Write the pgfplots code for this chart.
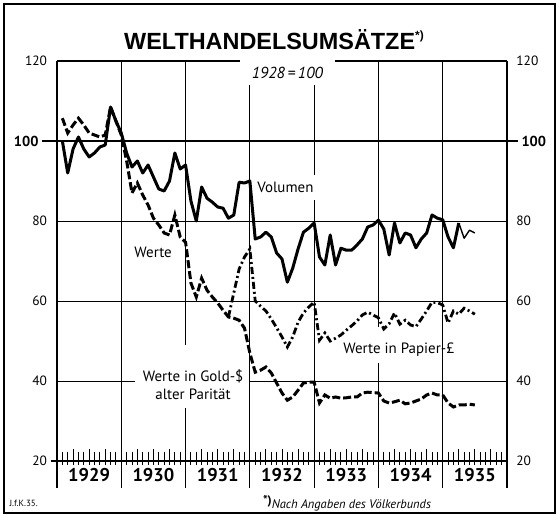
\documentclass[border=0pt]{standalone}
\usepackage{pgfplots}
\pgfplotsset{compat=1.18}
\usepackage{fontspec}
\setmainfont{PT Sans}
\newfontfamily\titlefont{Liberation Sans}
\begin{document}
\begin{tikzpicture}
\path (0bp,0bp) rectangle (559bp,517bp);
\draw[line width=1.4bp] (4bp,4bp) rectangle (555bp,513bp);
\node[font=\titlefont\bfseries\fontsize{23.5}{25}\selectfont] at (274bp,477bp) {WELTHANDELSUMSÄTZE\raisebox{0.45em}{\fontsize{12}{12}\selectfont *)}};
\node[anchor=west,font=\fontsize{9}{10}\selectfont] at (6bp,14bp) {J.f.K.35.};
\node[font=\itshape\fontsize{12.5}{13}\selectfont] at (347bp,14bp) {\raisebox{0.3em}{\upshape\bfseries *)}Nach Angaben des Völkerbunds};
% month ticks on the 20 line (the 20 line is at y=56bp; month k at x=57+5.3571k bp)
\foreach \k in {1,2,4,5,7,8,10,11,13,14,16,17,19,20,22,23,25,26,28,29,31,32,34,35,37,38,40,41,43,44,46,47,49,50,52,53,55,56,58,59,61,62,64,65,67,68,70,71,73,74,76,77,79,80,82,83}{
  \pgfmathsetmacro{\xx}{57+5.3571*\k}
  \draw[line width=1bp] (\xx bp,52bp) -- (\xx bp,65bp);
}
\foreach \k in {3,6,9,15,18,21,27,30,33,39,42,45,51,54,57,63,66,69,75,78,81}{
  \pgfmathsetmacro{\xx}{57+5.3571*\k}
  \draw[line width=1bp] (\xx bp,52bp) -- (\xx bp,68bp);
}
\begin{axis}[at={(57bp,29bp)}, anchor=south west, scale only axis,
  width=450bp, height=427bp, xmin=0, xmax=84, ymin=13.25, ymax=120,
  hide axis, clip=false]
% frame and grid
\draw[line width=1.1bp] (axis cs:0,13.25) -- (axis cs:0,120);
\draw[line width=1.1bp] (axis cs:84,13.25) -- (axis cs:84,120);
\draw[line width=1.1bp] (axis cs:0,120) -- (axis cs:34.2,120);
\draw[line width=1.1bp] (axis cs:51.9,120) -- (axis cs:84,120);
\draw[line width=0.9bp] (axis cs:12,13.25) -- (axis cs:12,120);
\draw[line width=0.9bp] (axis cs:24,13.25) -- (axis cs:24,33.3);
\draw[line width=0.9bp] (axis cs:24,49) -- (axis cs:24,120);
\draw[line width=0.9bp] (axis cs:36,13.25) -- (axis cs:36,114);
\draw[line width=0.9bp] (axis cs:48,13.25) -- (axis cs:48,85.3);
\draw[line width=0.9bp] (axis cs:48,91.5) -- (axis cs:48,114);
\draw[line width=0.9bp] (axis cs:60,13.25) -- (axis cs:60,44.5);
\draw[line width=0.9bp] (axis cs:60,53.5) -- (axis cs:60,120);
\draw[line width=0.9bp] (axis cs:72,13.25) -- (axis cs:72,120);
\draw[line width=2bp] (axis cs:-2.8,100) -- (axis cs:86.05,100);
\draw[line width=0.8bp] (axis cs:0,80) -- (axis cs:84,80);
\draw[line width=0.8bp] (axis cs:0,60) -- (axis cs:84,60);
\draw[line width=0.8bp] (axis cs:0,40) -- (axis cs:14.6,40);
\draw[line width=0.8bp] (axis cs:36,40) -- (axis cs:84,40);
\draw[line width=1.2bp] (axis cs:-1.2,20) -- (axis cs:84,20);
% tick labels
\pgfplotsinvokeforeach{120,80,60,40,20}{
  \node[anchor=east,font=\fontsize{13.5}{13.5}\selectfont] at (axis cs:-1.2,#1) {#1};
  \node[anchor=west,font=\fontsize{13.5}{13.5}\selectfont] at (axis cs:85.1,#1) {#1};
}
\node[anchor=east,font=\bfseries\fontsize{14.5}{14.5}\selectfont] at (axis cs:-2.8,100) {100};
\node[anchor=west,font=\bfseries\fontsize{14.5}{14.5}\selectfont] at (axis cs:86.05,100) {100};
% year labels
\node[font=\bfseries\fontsize{18.5}{18.5}\selectfont] at (axis cs:6,16.4) {1929};
\node[font=\bfseries\fontsize{18.5}{18.5}\selectfont] at (axis cs:18,16.4) {1930};
\node[font=\bfseries\fontsize{18.5}{18.5}\selectfont] at (axis cs:30,16.4) {1931};
\node[font=\bfseries\fontsize{18.5}{18.5}\selectfont] at (axis cs:42,16.4) {1932};
\node[font=\bfseries\fontsize{18.5}{18.5}\selectfont] at (axis cs:54,16.4) {1933};
\node[font=\bfseries\fontsize{18.5}{18.5}\selectfont] at (axis cs:66,16.4) {1934};
\node[font=\bfseries\fontsize{18.5}{18.5}\selectfont] at (axis cs:78,16.4) {1935};
\node[font=\itshape\fontsize{16}{16}\selectfont] at (axis cs:43,117) {1928\,=\,100};
% series labels
\node[anchor=west,fill=white,inner sep=1bp,font=\fontsize{15}{15}\selectfont] at (axis cs:37.2,88.5) {Volumen};
\node[anchor=west,font=\fontsize{15}{15}\selectfont] at (axis cs:13.8,72.2) {Werte};
\node[anchor=west,font=\fontsize{15}{15}\selectfont] at (axis cs:52.8,47.8) {Werte in Papier-£};
\node[align=center,font=\fontsize{15}{18}\selectfont] at (axis cs:25.4,39) {Werte in Gold-\$\\alter Parität};
% Volumen
\addplot[black, line width=3bp, line join=round] coordinates {
(1,100) (2,92) (3,98) (4,101) (5,98) (6,96) (7,97) (8,98.5) (9,99) (10,108.5) (11,105) (12,102)
(13,97) (14,93.5) (15,95) (16,92) (17,94) (18,91) (19,88) (20,87.5) (21,90) (22,97) (23,93) (24,94)
(25,85) (26,80) (27,88.5) (28,85.7) (29,84.7) (30,83.5) (31,83.2) (32,80.7) (33,81.5) (34,89.7) (35,89.5) (36,90)
(37,75.5) (38,76) (39,77.2) (40,76) (41,72) (42,70.5) (43,64.7) (44,68.2) (45,73) (46,77.2) (47,78.2) (48,79.5)
(49,71) (50,69) (51,76.5) (52,69) (53,73.2) (54,72.7) (55,72.7) (56,74) (57,75.5) (58,78.5) (59,79) (60,80.2)
(61,78) (62,71.5) (63,79.5) (64,74.5) (65,77) (66,76.5) (67,73.3) (68,75.5) (69,77) (70,81.5) (71,80.7) (72,80.3)
(73,76) (74,73.3) (75,79.5)
};
\addplot[black, line width=1.4bp, line join=round] coordinates {
(75,79.5) (76,75.7) (77,77.7) (78,77)
};
% Werte / Gold-$
\addplot[black, line width=3bp, dash pattern=on 8bp off 3bp] coordinates {
(1,105.7) (2,102) (3,104) (4,105.7) (5,104) (6,102) (7,101.5) (8,101) (9,101.5) (10,108.5) (11,105) (12,101.5)
(13,95) (14,87) (15,89.5) (16,86.5) (17,84) (18,80.7) (19,79) (20,77) (21,76.5) (22,81.5) (23,76) (24,74.7)
(25,64.5) (26,61) (27,65.7) (28,62.7) (29,61) (30,59.5) (31,57.7) (32,56) (33,55.7) (34,55.2) (35,53.2) (36,47)
(37,42.2) (38,42.7) (39,43.5) (40,42) (41,39.5) (42,37) (43,35.2) (44,36) (45,37.7) (46,39.5) (47,39.7) (48,39.7)
(49,34.5) (50,36.5) (51,35.7) (52,36) (53,35.7) (54,35.8) (55,36) (56,36) (57,37) (58,37.2) (59,37.1) (60,37)
(61,35) (62,34.5) (63,34.8) (64,35.2) (65,34.3) (66,34.5) (67,35) (68,35.5) (69,36.5) (70,37) (71,36.5) (72,36.5)
(73,34.5) (74,33.5) (75,34) (76,34) (77,34.2) (78,34)
};
% Werte in Papier-Pfund
\addplot[black, line width=2.8bp, dash pattern=on 7bp off 3bp on 2bp off 3bp] coordinates {
(32,56) (33,62) (34,68) (35,71) (36,73)
(37,60) (38,58.7) (39,57.5) (40,55.5) (41,53.3) (42,51) (43,48.5) (44,51) (45,54.7) (46,57) (47,58.5) (48,59.7)
(49,50.2) (50,52) (51,50) (52,50.7) (53,51.5) (54,52.7) (55,53.8) (56,55) (57,56.5) (58,57.2) (59,56.5) (60,55.8)
(61,53) (62,54.3) (63,57) (64,54.2) (65,55.2) (66,54) (67,53.6) (68,55.5) (69,57.5) (70,59.7) (71,59.6) (72,59)
(73,54.5) (74,57.5) (75,56.7) (76,58.2) (77,57.5) (78,56.7)
};
\end{axis}
\end{tikzpicture}
\end{document}
